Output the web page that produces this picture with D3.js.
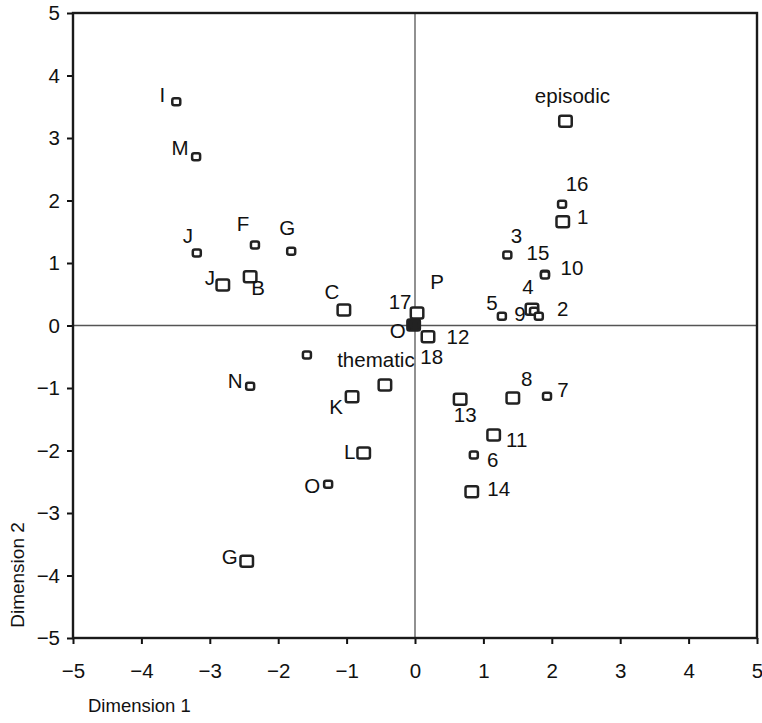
<!DOCTYPE html>
<html>
<head>
<meta charset="utf-8">
<script src="https://cdn.jsdelivr.net/npm/d3@7"></script>
<style>
  html, body { margin: 0; padding: 0; background: #fff; }
  svg { display: block; }
  text { font-family: "Liberation Sans", Arial, Helvetica, sans-serif; fill: #111; }
</style>
</head>
<body>
<svg id="chart" width="762" height="723"></svg>
<script>
// ---------------- data ----------------
const labels = ["I","M","J","F","G","J","B","C","","N","K","thematic","L","O","G",
                "O","18","P","17","12","13","8","7","11","6","14",
                "episodic","16","1","3","10","15","4","9","2","5"];
const dim1 = [-3.49,-3.20,-3.19,-2.34,-1.81,-2.81,-2.41,-1.04,-1.58,-2.41,-0.92,-0.44,-0.75,-1.27,-2.46,
              -0.02,0.01,0.00,0.03,0.19,0.66,1.43,1.93,1.15,0.86,0.83,
              2.20,2.15,2.16,1.35,1.90,1.90,1.71,1.74,1.81,1.27];
const dim2 = [3.58,2.70,1.16,1.29,1.19,0.65,0.78,0.25,-0.47,-0.97,-1.14,-0.95,-2.04,-2.54,-3.77,
              0.01,-0.01,0.02,0.20,-0.18,-1.18,-1.16,-1.13,-1.75,-2.07,-2.66,
              3.27,1.94,1.66,1.13,0.82,0.81,0.26,0.23,0.15,0.15];
// marker class: 0 = small, 1 = large
const markerKind = [0,0,0,0,0,1,1,1,0,0,1,1,1,0,1,
                    1,0,0,1,1,1,1,0,1,0,1,
                    1,0,1,0,0,0,1,0,0,0];
const xTicks = [-5,-4,-3,-2,-1,0,1,2,3,4,5];
const yTicks = [-5,-4,-3,-2,-1,0,1,2,3,4,5];
const xTitle = "Dimension 1";
const yTitle = "Dimension 2";

// ---------------- layout (label offsets from marker, px) ----------------
const labelDx = [-14,-16,-9,-12,-4,-13,8,-12,0,-15,-16,-9,-14,-16,-17,
                 -16,16,22,-17,30,5,14,16,23,19,27,
                 7,15,20,9,27,-7,-4,-14,24,-10];
const labelDy = [-7,-9,-17,-21,-24,-7,11,-18,0,-6,10,-25,-1,1,-5,
                 6,30,-43,-11,0,15,-19,-7,5,5,-3,
                 -26,-21,-5,-19,-7,-22,-23,2,-8,-14];

const data = labels.map((l, i) => ({
  label: l, x: dim1[i], y: dim2[i], kind: markerKind[i], dx: labelDx[i], dy: labelDy[i]
}));

const svg = d3.select("#chart");
const x = d3.scaleLinear().domain([-5, 5]).range([73, 757]);
const y = d3.scaleLinear().domain([-5, 5]).range([638, 13]);

// zero lines
svg.append("line")
  .attr("x1", x(0)).attr("x2", x(0)).attr("y1", y(5)).attr("y2", y(-5))
  .attr("stroke", "#555").attr("stroke-width", 1.3);
svg.append("line")
  .attr("x1", x(-5)).attr("x2", x(5)).attr("y1", y(0)).attr("y2", y(0))
  .attr("stroke", "#555").attr("stroke-width", 1.3);

// axes
const gy = svg.append("g").attr("transform", `translate(${x(-5)},0)`)
  .call(d3.axisLeft(y).tickValues(yTicks).tickSize(6).tickPadding(7));
const gx = svg.append("g").attr("transform", `translate(0,${y(-5)})`)
  .call(d3.axisBottom(x).tickValues(xTicks).tickSize(6).tickPadding(19));
[gx, gy].forEach(g => {
  g.select(".domain").remove();
  g.selectAll(".tick line").attr("stroke", "#111").attr("stroke-width", 2);
  g.selectAll(".tick text").attr("font-size", 20.5)
    .attr("font-family", '"Liberation Sans", Arial, sans-serif').attr("fill", "#111");
});

// frame
svg.append("rect")
  .attr("x", x(-5)).attr("y", y(5))
  .attr("width", x(5) - x(-5)).attr("height", y(-5) - y(5))
  .attr("fill", "none").attr("stroke", "#1a1a1a").attr("stroke-width", 2.4);

// axis titles
svg.append("text").attr("x", 88).attr("y", 712)
  .attr("font-size", 18.5).text(xTitle);
svg.append("text")
  .attr("transform", `translate(24,575) rotate(-90)`)
  .attr("text-anchor", "middle").attr("font-size", 19).text(yTitle);

// markers
const sizes = [{w: 8, h: 7}, {w: 12.5, h: 11}];
svg.append("g").selectAll("rect")
  .data(data).join("rect")
  .attr("x", d => x(d.x) - sizes[d.kind].w / 2)
  .attr("y", d => y(d.y) - sizes[d.kind].h / 2)
  .attr("width", d => sizes[d.kind].w)
  .attr("height", d => sizes[d.kind].h)
  .attr("rx", 2).attr("ry", 2)
  .attr("fill", d => (Math.abs(d.x) < 0.05 && Math.abs(d.y) < 0.05) ? "#222" : "#fff")
  .attr("stroke", "#222")
  .attr("stroke-width", 2.5);

// labels
svg.append("g").selectAll("text")
  .data(data.filter(d => d.label !== "")).join("text")
  .attr("x", d => x(d.x) + d.dx)
  .attr("y", d => y(d.y) + d.dy)
  .attr("dy", "0.36em")
  .attr("text-anchor", "middle")
  .attr("font-size", 20.5)
  .text(d => d.label);
</script>
</body>
</html>
